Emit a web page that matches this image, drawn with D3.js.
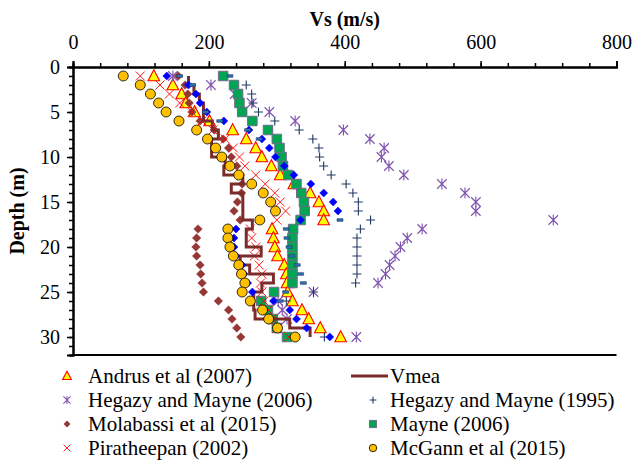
<!DOCTYPE html>
<html>
<head>
<meta charset="utf-8">
<script src="https://cdn.jsdelivr.net/npm/d3@7"></script>
<style>
  body { margin: 0; background: #fff; }
  svg { display: block; font-family: "Liberation Serif", "Times New Roman", serif; }
</style>
</head>
<body>
<svg id="chart" width="632" height="460"></svg>
<script>
// depth of each reading (m)
const depths = d3.range(1, 31);

// Vs values (m/s), one per depth unless a depth list is given
const andrus = [119, 147, 160, 166, 179, 201, 235, 255, 269, 278, 292, 305, 325, 349, 362, 369, 369, 293, 295, 297, 301, 311, 314, 315, 316, 323, 337, 347, 364, 394];
const hegazy2006Depth = [1, 2, 3, 4, 5, 6, 7, 8, 9, 10, 11, 12, 13, 14, 15, 16, 17, 18, 19, 20, 21, 22, 23, 24, 25, 26, 27, 28, 30];
const hegazy2006 = [147, 203, 238, 263, 289, 327, 398, 437, 458, 454, 465, 487, 543, 577, 593, 593, 707, 514, 492, 482, 474, 466, 460, 449, 354, 302, 308, 315, 417];
const hegazy1995Depth = [2, 3, 4, 5, 6, 7, 8, 9, 10, 11, 12, 13, 14, 15, 16, 17, 18, 19, 20, 21, 22, 23, 24, 25, 26, 30];
const hegazy1995 = [255, 263, 265, 273, 297, 333, 353, 362, 363, 369, 380, 402, 412, 420, 420, 438, 423, 418, 418, 418, 418, 418, 416, 354, 314, 370];
const molabassi = [155, 165, 169, 171, 175, 187, 208, 221, 229, 233, 241, 246, 249, 248, 242, 237, 246, 184, 182, 181, 182, 187, 188, 190, 192, 214, 229, 234, 241, 247];
const mayne = [221, 237, 243, 245, 249, 264, 287, 300, 304, 307, 309, 317, 329, 336, 340, 341, 335, 324, 323, 323, 323, 323, 323, 323, 296, 277, 287, 294, 300, 315];
const piratheepan = [99, 128, 142, 157, 175, 190, 206, 224, 236, 245, 253, 269, 283, 297, 305, 313, 300, 261, 263, 269, 267, 274, 278, 276, 278, 281, 287, 293, 300, 318];
const mcgann = [74, 99, 114, 126, 137, 156, 182, 198, 210, 219, 231, 244, 263, 280, 291, 298, 275, 228, 228, 231, 236, 244, 248, 253, 249, 261, 279, 288, 301, 327];
// two series shown on the plot but not in the visible legend
const blueDiamond = [138, 170, 181, 187, 197, 222, 259, 278, 289, 298, 311, 325, 350, 369, 383, 390, 335, 240, 237, 237, 240, 249, 252, 257, 264, 295, 319, 329, 344, 378];
const dashDepth = [1, 1, 2, 5, 6, 7, 8, 17, 18, 19, 20, 21, 22, 23, 24, 25, 26];
const dash = [157, 231, 176, 195, 216, 257, 274, 393, 314, 315, 318, 322, 330, 335, 339, 313, 305];
// Vmea layered profile: top of each layer and its Vs
const vmeaDepth = [1, 2, 3, 4, 5, 6, 7, 8, 9, 10, 11, 12, 13, 14, 15, 16, 17, 18, 19, 20, 21, 22, 23, 24, 25, 26, 27, 28, 29, 30];
const vmea = [170, 178, 186, 192, 192, 205, 214, 204, 204, 224, 222, 250, 233, 250, 250, 250, 264, 255, 255, 277, 246, 260, 295, 278, 266, 266, 268, 319, 349, 349];

const xTicks = [0, 200, 400, 600, 800];
const yTicks = [0, 5, 10, 15, 20, 25, 30];

const margin = {top: 67, left: 73};
const plotWidth = 543.5;
const plotHeight = 288;

const svg = d3.select("#chart");

const x = d3.scaleLinear().domain([0, 800]).range([margin.left, margin.left + plotWidth]);
const y = d3.scaleLinear().domain([0, 32]).range([margin.top, margin.top + plotHeight]);

// marker shapes, s = overall size in px
const shapes = {
  circle: s => d3.symbol(d3.symbolCircle, Math.PI * s * s / 4)(),
  square: s => d3.symbol(d3.symbolSquare, s * s)(),
  triangle: s => `M0,${-s * 0.6}L${s * 0.55},${s * 0.45}L${-s * 0.55},${s * 0.45}Z`,
  diamond: s => `M0,${-s / 2}L${s / 2},0L0,${s / 2}L${-s / 2},0Z`,
  cross: s => { const h = s / 2; return `M${-h},${-h}L${h},${h}M${-h},${h}L${h},${-h}`; },
  plus: s => { const h = s / 2; return `M${-h},0L${h},0M0,${-h}L0,${h}`; },
  star: s => { const h = s / 2; return `M${-h},${-h}L${h},${h}M${-h},${h}L${h},${-h}M0,${-h * 1.15}L0,${h * 1.15}`; },
  dash: s => `M${-s / 2},-1.3L${s / 2},-1.3L${s / 2},1.3L${-s / 2},1.3Z`,
};

const series = [
  {name: "Andrus et al (2007)", d: depths, v: andrus, shape: "triangle", size: 10.5, fill: "#FFFF00", stroke: "#FF0000", sw: 1.1},
  {name: "Hegazy and Mayne (2006)", d: hegazy2006Depth, v: hegazy2006, shape: "star", size: 9.5, fill: "none", stroke: "#7E52AE", sw: 1.1},
  {name: "Hegazy and Mayne (1995)", d: hegazy1995Depth, v: hegazy1995, shape: "plus", size: 9, fill: "none", stroke: "#1F3864", sw: 1.1},
  {name: "Molabassi et al (2015)", d: depths, v: molabassi, shape: "diamond", size: 8.5, fill: "#953735", stroke: "#953735", sw: 0.5},
  {name: "Mayne (2006)", d: depths, v: mayne, shape: "square", size: 9.5, fill: "#00A651", stroke: "#6E6A8A", sw: 1},
  {name: "Piratheepan (2002)", d: depths, v: piratheepan, shape: "cross", size: 9, fill: "none", stroke: "#FF0000", sw: 0.9},
  {name: "", d: depths, v: blueDiamond, shape: "diamond", size: 8, fill: "#0000FF", stroke: "#0000FF", sw: 0.5},
  {name: "", d: dashDepth, v: dash, shape: "dash", size: 6, fill: "#2E75B6", stroke: "#1F3864", sw: 0.6},
  {name: "McGann et al (2015)", d: depths, v: mcgann, shape: "circle", size: 10, fill: "#FFC000", stroke: "#000000", sw: 0.8},
];

// axes
const topAxis = svg.append("g").attr("transform", `translate(0,${margin.top})`);
topAxis.call(d3.axisTop(x).tickValues(d3.range(0, 801, 40)).tickSize(4).tickFormat(""));
topAxis.append("g").call(d3.axisTop(x).tickValues(xTicks).tickSize(6).tickPadding(12));

const leftAxis = svg.append("g").attr("transform", `translate(${margin.left},0)`);
leftAxis.call(d3.axisLeft(y).tickValues(d3.range(0, 33, 1)).tickSize(4).tickFormat(""));
leftAxis.append("g").call(d3.axisLeft(y).tickValues(yTicks).tickSize(6).tickPadding(7));

svg.selectAll(".domain").attr("stroke", "#000").attr("stroke-width", 2);
svg.selectAll(".tick line").attr("stroke", "#000").attr("stroke-width", 1.5);
svg.selectAll(".tick text").attr("font-family", "Liberation Serif").attr("font-size", 20).attr("fill", "#000");

// bottom border of plot area
svg.append("line")
  .attr("x1", margin.left - 1).attr("x2", x(800))
  .attr("y1", y(32)).attr("y2", y(32))
  .attr("stroke", "#000").attr("stroke-width", 2);

// titles
svg.append("text")
  .attr("x", x(400)).attr("y", 26)
  .attr("text-anchor", "middle").attr("font-weight", "bold").attr("font-size", 20)
  .text("Vs (m/s)");
svg.append("text")
  .attr("transform", `translate(24,${y(16)}) rotate(-90)`)
  .attr("text-anchor", "middle").attr("font-weight", "bold").attr("font-size", 20)
  .text("Depth (m)");

// data
const plot = svg.append("g");

function drawSeries(s) {
  plot.append("g").selectAll("path")
    .data(s.v.map((v, i) => ({v, d: s.d[i]})))
    .join("path")
    .attr("transform", p => `translate(${x(p.v)},${y(p.d)})`)
    .attr("d", shapes[s.shape](s.size))
    .attr("fill", s.fill)
    .attr("stroke", s.stroke)
    .attr("stroke-width", s.sw);
}

series.slice(0, 6).forEach(drawSeries);

const vmeaLine = d3.line()
  .x(p => x(p.v))
  .y(p => y(p.d))
  .curve(d3.curveStepBefore);

plot.append("path")
  .datum(vmea.map((v, i) => ({v, d: vmeaDepth[i]})))
  .attr("d", vmeaLine)
  .attr("fill", "none")
  .attr("stroke", "#7B2C2A")
  .attr("stroke-width", 3);

series.slice(6).forEach(drawSeries);

// legend
const legendRows = [376, 400, 424, 448];
const legendLeft = ["Andrus et al (2007)", "Hegazy and Mayne (2006)", "Molabassi et al (2015)", "Piratheepan (2002)"];
const legendRight = ["Vmea", "Hegazy and Mayne (1995)", "Mayne (2006)", "McGann et al (2015)"];
const legend = svg.append("g").attr("font-size", 21);

function legendItem(name, mx, tx, ry) {
  if (name === "Vmea") {
    legend.append("line")
      .attr("x1", mx - 22).attr("x2", mx + 15).attr("y1", ry).attr("y2", ry)
      .attr("stroke", "#7B2C2A").attr("stroke-width", 3);
  } else {
    const s = series.find(d => d.name === name);
    legend.append("path")
      .attr("transform", `translate(${mx},${ry})`)
      .attr("d", shapes[s.shape](s.size * 0.75))
      .attr("fill", s.fill).attr("stroke", s.stroke).attr("stroke-width", s.sw);
  }
  legend.append("text")
    .attr("x", tx).attr("y", ry).attr("dy", "0.35em")
    .text(name);
}

legendLeft.forEach((n, i) => legendItem(n, 67, 88, legendRows[i]));
legendRight.forEach((n, i) => legendItem(n, 373, 390, legendRows[i]));
</script>
</body>
</html>
